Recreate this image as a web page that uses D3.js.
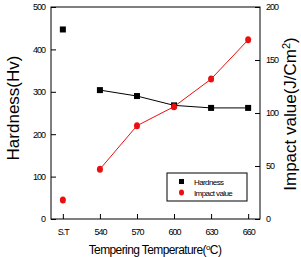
<!DOCTYPE html>
<html>
<head>
<meta charset="utf-8">
<script src="https://cdn.jsdelivr.net/npm/d3@7"></script>
<style>
  body { margin: 0; background: #fff; }
  text { font-family: "Liberation Sans", Arial, sans-serif; }
</style>
</head>
<body>
<div id="chart"></div>
<script>
const categories = ["S.T", "540", "570", "600", "630", "660"];
const hardness = [447, 304, 290, 268, 262, 262];
const impact = [18, 47, 88, 106, 132, 169];
const leftTicks = [0, 100, 200, 300, 400, 500];
const rightTicks = [0, 50, 100, 150, 200];

const W = 301, H = 257;
const margin = { top: 7, right: 41, bottom: 38, left: 51 };
const width = W - margin.left - margin.right;
const height = H - margin.top - margin.bottom;

const svg = d3.select("#chart").append("svg")
    .attr("width", W)
    .attr("height", H);
const g = svg.append("g")
    .attr("transform", `translate(${margin.left},${margin.top})`);

// Scales
const x = d3.scalePoint().domain(categories).range([0, width]).padding(0.32);
const yL = d3.scaleLinear().domain([0, 500]).range([height, 0]);
const yR = d3.scaleLinear().domain([0, 200]).range([height, 0]);

// Frame
g.append("rect")
    .attr("width", width).attr("height", height)
    .attr("fill", "none").attr("stroke", "#000").attr("stroke-width", 1);

// Axes (inward ticks)
const styleAxis = sel => {
    sel.select(".domain").remove();
    sel.selectAll("text").style("font-size", "9px").style("letter-spacing", "-1px");
};
g.append("g").attr("transform", `translate(0,${height})`)
    .call(d3.axisBottom(x).tickSize(-5).tickPadding(10))
    .call(styleAxis);
g.append("g")
    .call(d3.axisLeft(yL).tickValues(leftTicks).tickSize(-5).tickPadding(6))
    .call(styleAxis);
g.append("g").attr("transform", `translate(${width},0)`)
    .call(d3.axisRight(yR).tickValues(rightTicks).tickSize(-5).tickPadding(6))
    .call(styleAxis);

// Lines (S.T not connected)
const lineL = d3.line().x((d, i) => x(categories[i + 1])).y(d => yL(d));
const lineR = d3.line().x((d, i) => x(categories[i + 1])).y(d => yR(d));
g.append("path").datum(hardness.slice(1))
    .attr("d", lineL).attr("fill", "none").attr("stroke", "#000").attr("stroke-width", 1);
g.append("path").datum(impact.slice(1))
    .attr("d", lineR).attr("fill", "none").attr("stroke", "#e81010").attr("stroke-width", 1);

// Markers
g.selectAll(".hpt").data(hardness).enter().append("rect")
    .attr("x", (d, i) => x(categories[i]) - 3)
    .attr("y", d => yL(d) - 3)
    .attr("width", 6).attr("height", 6).attr("fill", "#000");
g.selectAll(".ipt").data(impact).enter().append("ellipse")
    .attr("cx", (d, i) => x(categories[i]))
    .attr("cy", d => yR(d))
    .attr("rx", 3).attr("ry", 3.5).attr("fill", "#e81010");

// Legend
const lg = g.append("g").attr("transform", `translate(${167 - margin.left},${173 - margin.top})`);
lg.append("rect").attr("width", 80).attr("height", 28)
    .attr("fill", "#fff").attr("stroke", "#000").attr("stroke-width", 1);
lg.append("rect").attr("x", 12).attr("y", 6).attr("width", 5).attr("height", 5).attr("fill", "#000");
lg.append("ellipse").attr("cx", 14.5).attr("cy", 19.5).attr("rx", 2.5).attr("ry", 3).attr("fill", "#e81010");
lg.append("text").attr("x", 27).attr("y", 11.5).style("font-size", "8px").style("letter-spacing", "-0.6px").text("Hardness");
lg.append("text").attr("x", 27).attr("y", 23).style("font-size", "8px").style("letter-spacing", "-0.6px").text("Impact value");

// Axis titles
svg.append("text")
    .attr("transform", `translate(19,108) rotate(-90)`)
    .attr("text-anchor", "middle")
    .style("font-size", "17px")
    .text("Hardness(Hv)");
svg.append("text")
    .attr("transform", `translate(296,114) rotate(-90)`)
    .attr("text-anchor", "middle")
    .style("font-size", "17px")
    .html("Impact value(J/Cm<tspan baseline-shift='super' font-size='11px'>2</tspan>)");
svg.append("text")
    .attr("x", 155)
    .attr("y", 254)
    .attr("text-anchor", "middle")
    .style("font-size", "12px")
    .style("letter-spacing", "-0.6px")
    .html("Tempering Temperature(<tspan baseline-shift='super' font-size='8px'>o</tspan>C)");
</script>
</body>
</html>
